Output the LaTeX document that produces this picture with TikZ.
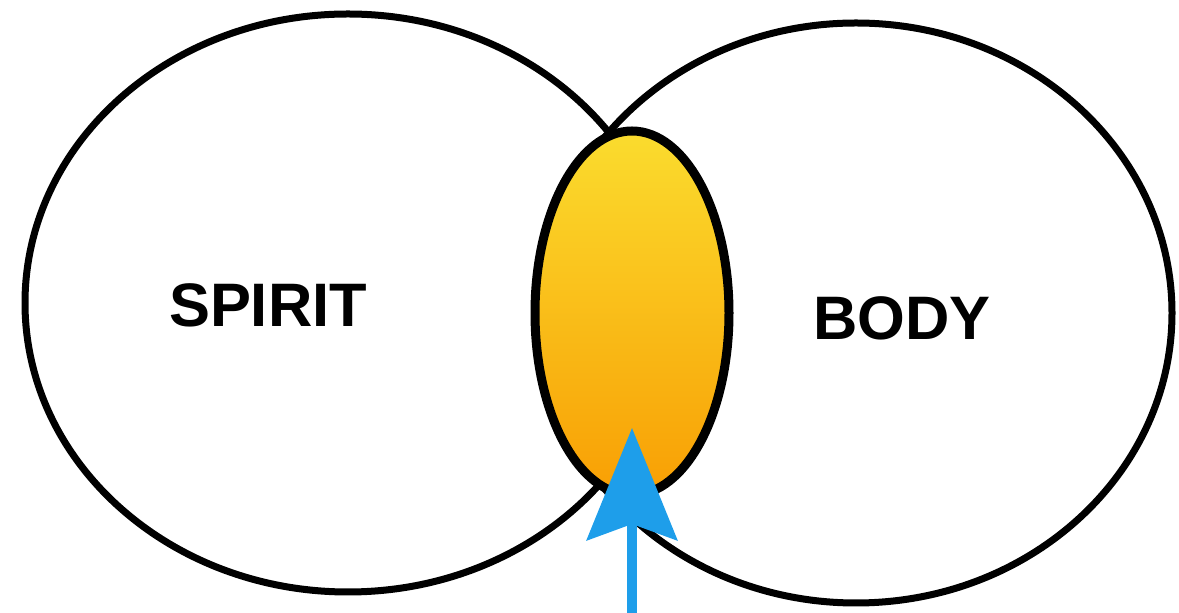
\documentclass[tikz,border=0pt]{standalone}
\usepackage{fontspec}
\setmainfont{Liberation Sans}
\usetikzlibrary{shapes.geometric,arrows.meta}
\definecolor{lensTop}{HTML}{FADC2E}
\definecolor{lensBot}{HTML}{F99F04}
\definecolor{arrowBlue}{HTML}{1E9EEA}

\begin{document}
\begin{tikzpicture}[x=0.5pt,y=-0.5pt]
\tikzstyle{every node}+=[inner sep=0pt]
\tikzstyle{ring}=[draw=black, line width=3.5pt, ellipse]
\tikzstyle{tagtext}=[font=\bfseries\fontsize{30.7}{36}\selectfont]
\useasboundingbox (0,0) rectangle (1179,613);
\node [ring, minimum width=323pt, minimum height=289pt] (spirit) at (348,303) {};
\node [ring, minimum width=316pt, minimum height=290pt] (body) at (856,313) {};
\node [ellipse, draw=black, line width=4.5pt, top color=lensTop, bottom color=lensBot, minimum width=97pt, minimum height=182pt] (soul) at (632,313) {};
\node [tagtext] (spiritname) at (268,305) {SPIRIT};
\node [tagtext] (bodyname) at (902,318) {BODY};
\coordinate (source) at (632,613);
\coordinate (aim) at (632,428);
\draw [arrowBlue, line width=5pt, -{Stealth[length=56pt, width=45pt, inset=8pt]}] (source) -- (aim);
\end{tikzpicture}
\end{document}
